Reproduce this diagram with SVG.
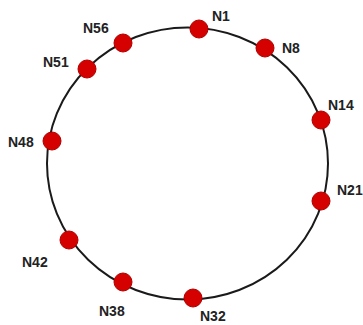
<svg xmlns="http://www.w3.org/2000/svg" width="363" height="325" viewBox="0 0 363 325">
<style>
.ring{fill:none;stroke:#1a1a1a;stroke-width:2}
.node circle{fill:#d50000;stroke:#b00000;stroke-width:1}
.node text{font-family:"Liberation Sans",Arial,sans-serif;font-weight:bold;font-size:14px;fill:#222}
</style>
<rect width="363" height="325" fill="#fff"/>
<g id="connectors">
<ellipse class="ring" cx="187.5" cy="163.5" rx="140.5" ry="136"/>
</g>
<g id="N1" class="node"><circle cx="199" cy="29" r="9"/><text x="212" y="21">N1</text></g>
<g id="N8" class="node"><circle cx="265" cy="48" r="9"/><text x="282" y="53">N8</text></g>
<g id="N14" class="node"><circle cx="321" cy="120" r="9"/><text x="328" y="110">N14</text></g>
<g id="N21" class="node"><circle cx="321" cy="201" r="9"/><text x="337" y="195">N21</text></g>
<g id="N32" class="node"><circle cx="193" cy="298" r="9"/><text x="200" y="321">N32</text></g>
<g id="N38" class="node"><circle cx="123" cy="282" r="9"/><text x="99" y="316">N38</text></g>
<g id="N42" class="node"><circle cx="69" cy="240" r="9"/><text x="22" y="267">N42</text></g>
<g id="N48" class="node"><circle cx="52" cy="141" r="9"/><text x="8" y="147">N48</text></g>
<g id="N51" class="node"><circle cx="87" cy="69" r="9"/><text x="43" y="67">N51</text></g>
<g id="N56" class="node"><circle cx="123" cy="43" r="9"/><text x="83" y="33">N56</text></g>
</svg>
